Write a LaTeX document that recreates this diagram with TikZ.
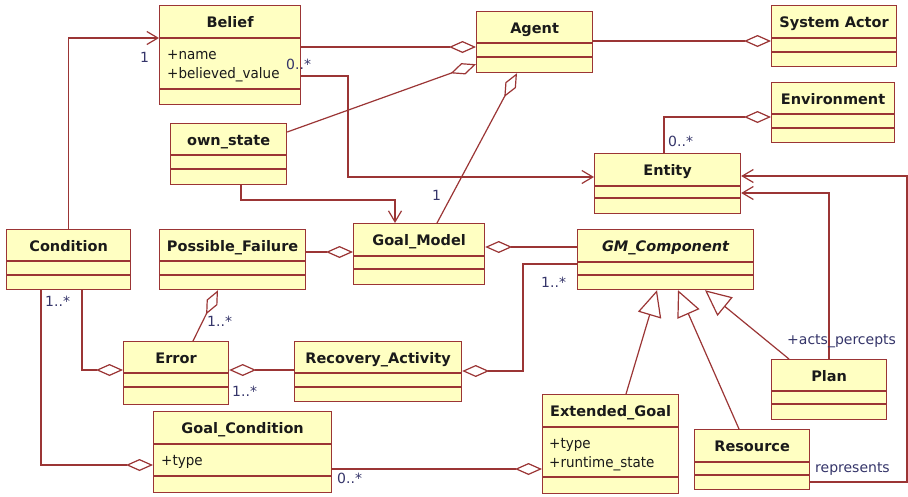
\documentclass[tikz,border=0pt]{standalone}
\usepackage{fontspec}
\setmainfont{DejaVu Sans}
\newfontfamily\umlreg[FakeStretch=0.93]{DejaVu Sans}
\usetikzlibrary{arrows.meta,calc}

\definecolor{umlline}{HTML}{9B3535}
\definecolor{umlfill}{HTML}{FFFFC2}
\definecolor{umltext}{HTML}{1A1A1A}
\definecolor{multtext}{HTML}{35356A}

\tikzset{
  classbox/.style={draw=umlline, fill=umlfill, line width=1.2pt, inner sep=0pt},
  compsep/.style={draw=umlline, line width=1.2pt},
  classtitle/.style={font=\bfseries\fontsize{14.5}{16}\selectfont, text=umltext, inner sep=0pt, anchor=base},
  attrtext/.style={font=\umlreg\fontsize{14.5}{16}\selectfont, text=umltext, inner sep=0pt, anchor=base west},
  multlabel/.style={font=\fontsize{14}{16}\selectfont, text=multtext, inner sep=0pt, anchor=west},
  conn/.style={draw=umlline, line width=1.2pt},
  agg/.style={conn, -{Diamond[length=27pt, width=12pt, fill=white]}},
  nav/.style={conn, -{Straight Barb[length=11pt, width=13pt]}},
  gen/.style={conn, -{Triangle[length=26pt, width=24pt, fill=white]}},
}

% class box: name, x, y, width, height, 1st separator, 2nd separator, title
\newcommand{\umlclass}[8]{%
  \node[classbox, anchor=north west, minimum width=#4pt, minimum height=#5pt] (#1) at (#2,#3) {};
  \draw[compsep] ([yshift=-#6pt]#1.north west) -- ([yshift=-#6pt]#1.north east);
  \draw[compsep] ([yshift=-#7pt]#1.north west) -- ([yshift=-#7pt]#1.north east);
  \node[classtitle] (#1-name) at ([yshift=-22pt]#1.north) {#8};
}

\begin{document}
\begin{tikzpicture}[x=1pt, y=-1pt]
\fill[white] (0,0) rectangle (908,496);
\useasboundingbox (0,0) rectangle (908,496);

% classes
\umlclass{belief}{159}{5}{141}{99}{33}{84}{Belief}
\umlclass{agent}{476}{11}{116}{61}{32}{46}{Agent}
\umlclass{sysactor}{771}{5}{125}{61}{33}{47}{System Actor}
\umlclass{environment}{771}{82}{123}{60}{32}{46}{Environment}
\umlclass{ownstate}{170}{123}{116}{61}{32}{46}{own\_state}
\umlclass{entity}{594}{153}{146}{60}{33}{45}{Entity}
\umlclass{condition}{6}{229}{124}{60}{32}{46}{Condition}
\umlclass{possiblefailure}{159}{229}{146}{60}{32}{46}{Possible\_Failure}
\umlclass{goalmodel}{353}{223}{131}{61}{33}{46}{Goal\_Model}
\umlclass{gmcomponent}{577}{229}{176}{60}{33}{46}{\itshape GM\_Component}
\umlclass{error}{123}{341}{105}{63}{32}{46}{Error}
\umlclass{recovery}{294}{341}{167}{60}{32}{46}{Recovery\_Activity}
\umlclass{goalcondition}{153}{411}{178}{81}{33}{65}{Goal\_Condition}
\umlclass{extendedgoal}{542}{394}{136}{99}{33}{83}{Extended\_Goal}
\umlclass{resource}{694}{429}{115}{60}{33}{46}{Resource}
\umlclass{plan}{771}{359}{115}{60}{32}{45}{Plan}

% attributes
\node[attrtext] at ([xshift=8pt, yshift=-54pt]belief.north west) {+name};
\node[attrtext] at ([xshift=8pt, yshift=-73pt]belief.north west) {+believed\_value};
\node[attrtext] at ([xshift=8pt, yshift=-54pt]goalcondition.north west) {+type};
\node[attrtext] at ([xshift=7pt, yshift=-54pt]extendedgoal.north west) {+type};
\node[attrtext] at ([xshift=7pt, yshift=-73pt]extendedgoal.north west) {+runtime\_state};

% associations with navigation
\draw[nav] (condition.north) |- ([yshift=-33pt]belief.north west);
\draw[nav] (belief.east |- 0,76) -| (348,177) -- (entity.west |- 0,177);
\draw[nav] ([xshift=71pt]ownstate.south west) |- (395,200) -- ([xshift=42pt]goalmodel.north west);
\draw[nav] ([xshift=58pt]plan.north west) |- (entity.east |- 0,193);
\draw[nav] (resource.east |- 0,482) -| (907,176) -- (entity.east |- 0,176);

% aggregations
\draw[agg] (belief.east |- 0,47) -- (agent.west |- 0,47);
\draw[agg] ([yshift=-9pt]ownstate.north east) -- ([yshift=9pt]agent.south west);
\draw[agg] (agent.east |- 0,41) -- (sysactor.west |- 0,41);
\draw[agg] ([xshift=84pt]goalmodel.north west) -- ([xshift=41pt]agent.south west);
\draw[agg] ([xshift=70pt]entity.north west) |- (environment.west |- 0,117);
\draw[agg] (possiblefailure.east |- 0,252) -- (goalmodel.west |- 0,252);
\draw[agg] (gmcomponent.west |- 0,247) -- (goalmodel.east |- 0,247);
\draw[agg] ([xshift=70pt]error.north west) -- ([xshift=59pt]possiblefailure.south west);
\draw[agg] ([xshift=76pt]condition.south west) |- (error.west |- 0,370);
\draw[agg] ([xshift=35pt]condition.south west) |- (goalcondition.west |- 0,465);
\draw[agg] (recovery.west |- 0,370) -- (error.east |- 0,370);
\draw[agg] (gmcomponent.west |- 0,264) -| (523,371) -- (recovery.east |- 0,371);
\draw[agg] (goalcondition.east |- 0,469) -- (extendedgoal.west |- 0,469);

% generalizations
\draw[gen] ([xshift=84pt]extendedgoal.north west) -- ([xshift=80pt]gmcomponent.south west);
\draw[gen] ([xshift=45pt]resource.north west) -- ([xshift=101pt]gmcomponent.south west);
\draw[gen] ([xshift=18pt]plan.north west) -- ([xshift=128pt]gmcomponent.south west);

% multiplicities and roles
\node[multlabel] (m-belief) at (140,57) {1};
\node[multlabel] (m-entity) at (286,64) {0..*};
\node[multlabel] (m-agent) at (432,195) {1};
\node[multlabel] (m-env) at (668,141) {0..*};
\node[multlabel] (m-cond) at (45,301) {1..*};
\node[multlabel] (m-error) at (207,321) {1..*};
\node[multlabel] (m-rec) at (232,391) {1..*};
\node[multlabel] (m-gmc) at (541,282) {1..*};
\node[multlabel] (m-goalc) at (337,478) {0..*};
\node[multlabel] (r-acts) at (787,341) {+acts\_percepts};
\node[multlabel] (r-rep) at (815,469) {represents};
\end{tikzpicture}
\end{document}
